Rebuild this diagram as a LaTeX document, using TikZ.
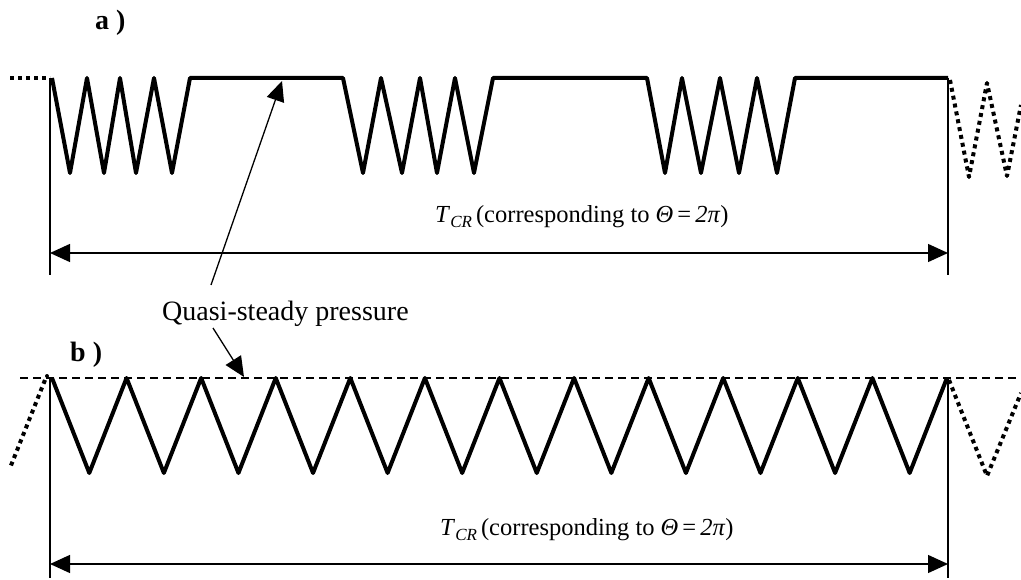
\documentclass[tikz,border=0pt]{standalone}
\usepackage{fontspec}
\setmainfont{Liberation Serif}
\usetikzlibrary{arrows.meta}
\begin{document}
\begin{tikzpicture}[x=1pt,y=-1pt,
  wave/.style={line width=4pt,line join=round},
  dotwave/.style={line width=4pt,dash pattern=on 4pt off 4pt,line join=round},
  thin/.style={line width=1.3pt},
  dim/.style={line width=1.3pt,{Triangle[length=20pt,width=18pt]}-{Triangle[length=20pt,width=18pt]}},
  ptr/.style={line width=1.3pt,-{Triangle[length=20pt,width=18pt]}},
  dashline/.style={line width=1.3pt,dash pattern=on 8pt off 5pt},
  lab/.style={inner sep=0pt,anchor=base west,font=\fontsize{28}{34}\selectfont},
  tlab/.style={inner sep=0pt,anchor=base west,font=\fontsize{24.5}{30}\selectfont}]
\useasboundingbox (0,0) rectangle (1021,580);

% ---------- a) ----------
\node[lab,font=\fontsize{28}{34}\selectfont\bfseries] (la) at (95,30) {a )};
\draw[dotwave] (10,78) -- (50,78);
\draw[wave] (52,78) -- (70,173) -- (87,78) -- (104,173) -- (120,78) -- (136,173) -- (154,78) -- (172,173) -- (190,78)
  -- (343,78) -- (363,173) -- (381,78) -- (402,173) -- (420,78) -- (437,173) -- (455,78) -- (474,173) -- (493,78)
  -- (647,78) -- (665,173) -- (682,78) -- (701,173) -- (720,78) -- (739,173) -- (757,78) -- (777,173) -- (795,78)
  -- (948,78);
\draw[dotwave] (950,80) -- (969,177) -- (987,83) -- (1007,176) -- (1021,105);

\coordinate (atl) at (50,78);
\coordinate (abl) at (50,275);
\coordinate (atr) at (948,78);
\coordinate (abr) at (948,275);
\draw[thin] (atl) -- (abl);
\draw[thin] (atr) -- (abr);
\coordinate (aal) at (50,253);
\coordinate (aar) at (948,253);
\draw[dim] (aal) -- (aar);
\node[tlab] (ta) at (435,223) {\textit{T}\raisebox{-5pt}{\fontsize{17}{20}\selectfont\textit{CR}}\,(corresponding to \textit{Θ}\,=\,\textit{2π})};

% ---------- pointer label ----------
\node[lab] (qs) at (162,320) {Quasi-steady pressure};
\coordinate (p1s) at (211,285);
\coordinate (p1e) at (282,81);
\coordinate (p2s) at (213,328);
\coordinate (p2e) at (244,377);
\draw[ptr] (p1s) -- (p1e);
\draw[ptr] (p2s) -- (p2e);

% ---------- b) ----------
\node[lab,font=\fontsize{28}{34}\selectfont\bfseries] (lb) at (70,362) {b )};
\draw[dashline] (20,378) -- (1021,378);
\draw[wave] (52,378) \foreach \k in {0,...,11} { -- ({52+\k*74.58+37.29},473) -- ({52+(\k+1)*74.58},378) };
\draw[dotwave] (949,380) -- (987,476) -- (1021,393);
\draw[dotwave] (45,380) -- (10,468);
\fill (47,376) circle (2pt);

\coordinate (btl) at (50,378);
\coordinate (bbl) at (50,578);
\coordinate (btr) at (948,378);
\coordinate (bbr) at (948,578);
\draw[thin] (btl) -- (bbl);
\draw[thin] (btr) -- (bbr);
\coordinate (bal) at (50,564);
\coordinate (bar) at (948,564);
\draw[dim] (bal) -- (bar);
\node[tlab] (tb) at (440,535) {\textit{T}\raisebox{-5pt}{\fontsize{17}{20}\selectfont\textit{CR}}\,(corresponding to \textit{Θ}\,=\,\textit{2π})};
\end{tikzpicture}
\end{document}
